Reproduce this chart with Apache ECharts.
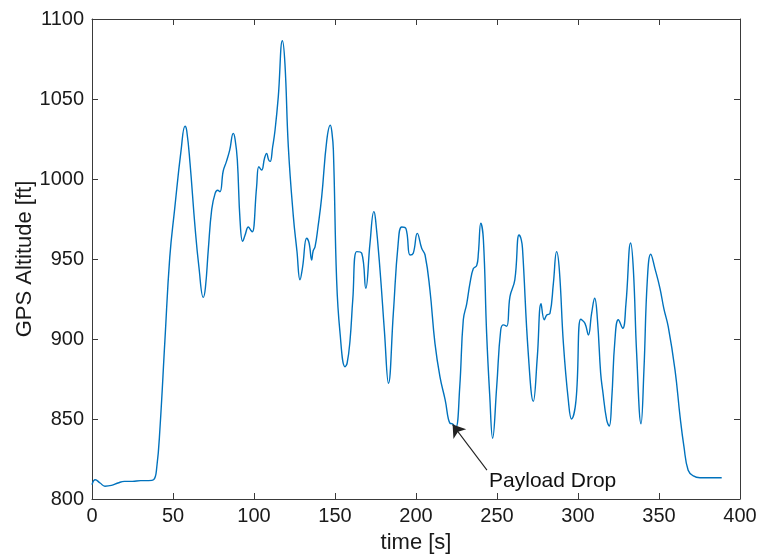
<!DOCTYPE html>
<html>
<head>
<meta charset="utf-8">
<script src="https://cdn.jsdelivr.net/npm/echarts@6/dist/echarts.min.js"></script>
<style>
  html, body { margin: 0; padding: 0; background: #fff; }
  #chart { width: 761px; height: 554px; }
</style>
</head>
<body>
<div id="chart"></div>
<script>
// GPS altitude log: time [s] and altitude [ft]
const timeSec = [
  0, 2, 5, 8, 12, 16, 20, 25, 30, 35, 38, 40, 42, 45, 48, 51, 55, 57.4, 58.5, 60.5,
  63.6, 66, 68.7, 70, 71.8, 73.9, 76, 77.5, 79, 81, 83, 85, 87.2, 88.3, 89.7, 91.4,
  93, 94.5, 96.5, 98, 99, 101.6, 103, 104.7, 106.5, 107.8, 109, 110, 111.5, 113, 115,
  117.5, 119.1, 121.2, 124.3, 126.5, 128.4, 130, 132.5, 134, 135.6, 136.5, 137.7,
  139.5, 141.8, 144.9, 147.1, 148, 149, 151, 153, 156.2, 157.5, 159.3, 161, 163.4,
  166.5, 169, 171.6, 174, 175, 177.8, 180.5, 183, 186, 189, 191.2, 193.8, 196.3,
  198.3, 200.8, 203.5, 205.6, 208.6, 211.7, 214.8, 218, 221, 222.5, 223.5, 224.7,
  227, 229.2, 231.3, 233.3, 235.4, 237.5, 238.5, 240, 241.6, 243.6, 245.5, 247.3,
  249.8, 252.3, 254, 256, 258, 261, 263.6, 265, 265.8, 269.3, 272.4, 274.9, 277.2,
  279.2, 280.7, 282.7, 284.8, 286.8, 288.5, 291, 294, 296, 298.8, 301.7, 304.3,
  306.4, 308.4, 310.3, 312, 314, 315.2, 317.7, 319.3, 320.8, 322.8, 324.9, 327.6,
  329.6, 332.5, 334.2, 336.2, 338.9, 340.7, 342.8, 344.9, 347.5, 350.6, 353, 355.7,
  359.9, 363, 365.4, 368, 371.2, 375.3, 388.7
];
const altitudeFt = [
  809, 812, 810, 808, 808.5, 810, 811, 811, 811.5, 811.5, 812, 820, 845, 899, 951, 981, 1018, 1033, 1030, 1010,
  970, 945, 926, 932, 956, 981, 991, 993, 992, 1005, 1011, 1018, 1028.5, 1025, 1012, 974,
  961, 965, 970, 968, 967, 995, 1007.7, 1005.6, 1013, 1016, 1012, 1011, 1020, 1030.6, 1051.5,
  1086.4, 1072, 1020, 976.5, 955, 937, 945, 963, 960, 949.4, 955, 957.7,
  970, 989, 1024, 1033.7, 1030, 1018, 937, 905, 882.7, 885, 899.4, 925, 954.6,
  953.6, 931.7, 959.8, 979.6, 975, 943, 905, 872.3, 916, 959.8, 970, 969, 952.5,
  953.6, 966, 956.7, 952.5, 930.6, 897.3, 876.4, 862, 847.3, 847, 846, 845,
  870, 912, 922, 934.8, 944, 946, 953.6, 972.3, 962, 903.5, 865, 838,
  870, 905.6, 908.8, 908, 926.5, 937, 965, 962, 955.6, 891, 861, 889, 922,
  912, 915, 916, 934.8, 954.6, 943, 897, 862, 850, 862, 912.3, 909.8,
  902.5, 916, 925.5, 912, 878.5, 868, 849.4, 845.6, 862, 899.4, 912, 906.7,
  922, 960, 943, 891, 847, 880.6, 937, 953, 944, 931.7, 919, 907.7,
  880.6, 851.5, 832.7, 818, 814.4, 813.3, 813.3
];

// Annotation: arrow tail, arrow head, and label anchor (time, altitude)
const dropLabel = 'Payload Drop';
const arrowFrom = [243.8, 818];
const arrowTo = [222.6, 846.5];
const labelAt = [245.1, 811.2];

// Axis ranges and tick steps
const xRange = [0, 400], xStep = 50;
const yRange = [800, 1100], yStep = 50;

const lineData = timeSec.map((t, i) => [t, altitudeFt[i]]);

const FONT = '"Liberation Sans", Arial, Helvetica, sans-serif';
const frameColor = '#3a3a3a';
const textColor = '#1a1a1a';
const plainNumber = v => String(v);

function axisBase(extra) {
  return Object.assign({
    type: 'value',
    nameMoveOverlap: false,
    axisLine: { show: true, onZero: false, lineStyle: { color: frameColor, width: 1 } },
    axisTick: { show: true, inside: true, length: 6, lineStyle: { color: frameColor } },
    splitLine: { show: false },
  }, extra);
}

const chart = echarts.init(document.getElementById('chart'), null, { renderer: 'canvas' });
chart.setOption({
  animation: false,
  backgroundColor: '#fff',
  grid: { left: 92, right: 21, top: 19, bottom: 55, containLabel: false, outerBoundsMode: 'none' },
  xAxis: [
    axisBase({
      position: 'bottom', min: xRange[0], max: xRange[1], interval: xStep,
      name: 'time [s]', nameLocation: 'middle', nameGap: 33,
      nameTextStyle: { fontFamily: FONT, fontSize: 22, color: textColor },
      axisLabel: { fontFamily: FONT, fontSize: 20, color: textColor, margin: 7, formatter: plainNumber }
    }),
    axisBase({
      position: 'top', min: xRange[0], max: xRange[1], interval: xStep,
      axisLabel: { show: false }
    })
  ],
  yAxis: [
    axisBase({
      position: 'left', min: yRange[0], max: yRange[1], interval: yStep,
      name: 'GPS Altitude [ft]', nameLocation: 'middle', nameGap: 56,
      nameTextStyle: { fontFamily: FONT, fontSize: 22, color: textColor },
      axisLabel: { fontFamily: FONT, fontSize: 20, color: textColor, margin: 8, formatter: plainNumber }
    }),
    axisBase({
      position: 'right', min: yRange[0], max: yRange[1], interval: yStep,
      axisLabel: { show: false }
    })
  ],
  series: [{
    type: 'line',
    data: lineData,
    showSymbol: false,
    smooth: 0.45,
    lineStyle: { color: '#0072BD', width: 1.4 },
    markLine: {
      silent: true,
      symbol: ['none', 'arrow'],
      symbolSize: 12,
      lineStyle: { color: '#222', width: 1.1, type: 'solid' },
      label: { show: false },
      data: [[{ coord: arrowFrom }, { coord: arrowTo }]]
    },
    markPoint: {
      silent: true,
      symbol: 'circle',
      symbolSize: 0,
      label: {
        show: true, position: 'right', distance: 0,
        formatter: dropLabel,
        fontFamily: FONT, fontSize: 21, color: '#111'
      },
      data: [{ coord: labelAt }]
    }
  }]
});
</script>
</body>
</html>
